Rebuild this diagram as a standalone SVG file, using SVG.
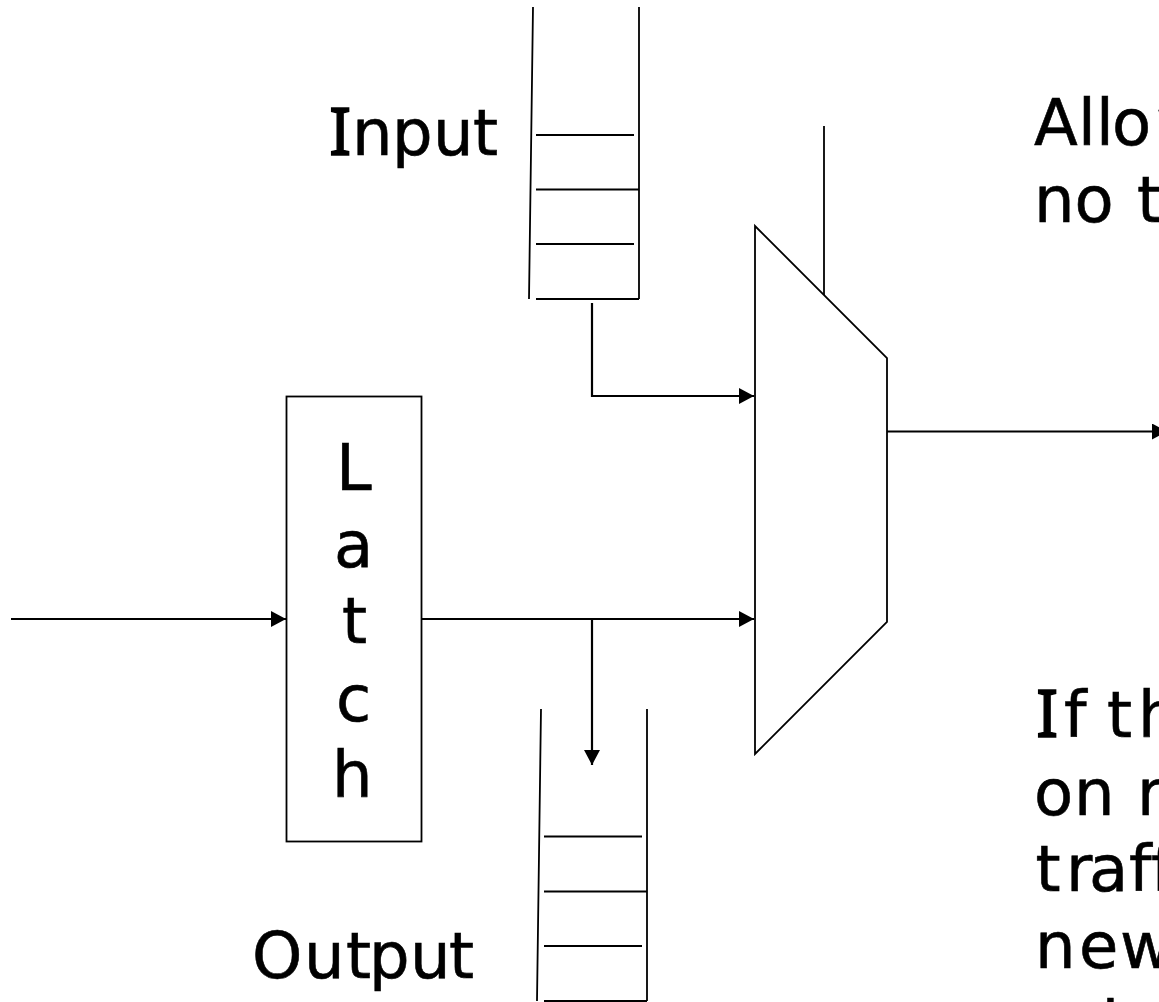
<svg xmlns="http://www.w3.org/2000/svg" width="1159" height="1002" viewBox="0 0 1159 1002">
<style>
.l{fill:none;stroke:#000;stroke-width:1.8}
.c{fill:none;stroke:#000;stroke-width:2.200}
.t{font-family:"DejaVu Sans",sans-serif;font-size:64px;fill:#000;stroke:#000;stroke-width:.6}
.i{font-family:"Noto Sans",sans-serif;font-size:66px;stroke-width:1.4}
.a{fill:#000;stroke:none}
</style>
<defs><marker id="ah" markerUnits="userSpaceOnUse" markerWidth="16" markerHeight="16" refX="15" refY="8" orient="auto"><path class="a" d="M0 0L15 8L0 16Z"/></marker></defs>
<rect width="1159" height="1002" fill="#fff"/>
<g id="input-queue">
<path class="l" d="M533 7L529 299M639 7V299M536 135H634M536 189.500H639M536 244H634M536 299H639"/>
<text class="t" y="155"><tspan class="i" x="329">I</tspan><tspan x="352 392 433 473">nput</tspan></text>
</g>
<g id="output-queue">
<path class="l" d="M541 709L537 1001M647 709V1001M544 836.500H642M544 891.500H647M544 946H642M544 1001H647"/>
<text class="t" y="978" x="252 304 346 369 410 449">Output</text>
</g>
<g id="latch">
<rect class="l" x="286.500" y="396.500" width="135" height="445"/>
<text class="t" x="336" y="490">L</text>
<text class="t" x="334" y="567">a</text>
<text class="t" x="342" y="643">t</text>
<text class="t" x="336" y="721">c</text>
<text class="t" x="332" y="797">h</text>
</g>
<g id="mux">
<path class="l" d="M755 226L887 358V622L755 754Z"/>
<path class="l" d="M824 126V295"/>
</g>
<g id="connectors">
<path class="c" d="M592 303V396H754" marker-end="url(#ah)"/>
<path class="c" d="M11 619H286" marker-end="url(#ah)"/>
<path class="c" d="M422 619H754" marker-end="url(#ah)"/>
<path class="c" d="M592 619V765" marker-end="url(#ah)"/>
<path class="c" d="M887 431.500H1167" marker-end="url(#ah)"/>
</g>
<g id="notes">
<text class="t" y="145" x="1034 1078 1096 1112 1156">Allow</text>
<text class="t" y="222" x="1034 1074.500 1113 1137">no t</text>
<text class="t" y="737"><tspan class="i" x="1036">I</tspan><tspan x="1064 1085 1107 1138">f th</tspan></text>
<text class="t" y="815" x="1034 1074 1113 1137">on r</text>
<text class="t" y="891" x="1035.500 1066 1089 1129 1151">traff</text>
<text class="t" y="968" x="1035 1079 1120">new</text>
<text class="t" y="1046.500" x="1101.500">i</text>
</g>
</svg>
